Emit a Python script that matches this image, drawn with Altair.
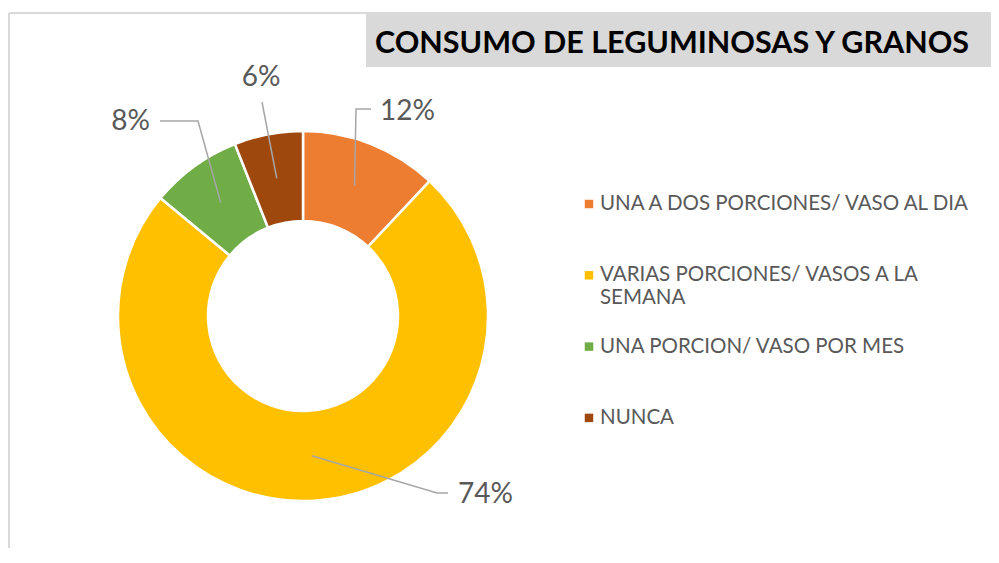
import math
import textwrap
import altair as alt
import pandas as pd

# ---------------- data ----------------
categories = [
    "UNA A DOS PORCIONES/ VASO AL DIA",
    "VARIAS PORCIONES/ VASOS A LA SEMANA",
    "UNA PORCION/ VASO POR MES",
    "NUNCA",
]
percentages = [12, 74, 8, 6]
colors = ["#ED7D31", "#FFC000", "#70AD47", "#9E480E"]
title_text = "CONSUMO DE LEGUMINOSAS Y GRANOS"

# ---------------- layout (pixels, centred on the donut, y up) ----------------
W, H = 983, 540
CX, CY = 295, 308          # donut centre inside the chart
R_OUT, R_IN = 185, 95
R_ANCHOR = (R_OUT + R_IN) / 2
FONT = "Lato"
LABEL_COLOR = "#595959"
LEADER_COLOR = "#A6A6A6"

# label placement and leader-line bends per slice (same order as categories)
label_pos = [(77, 204, "left"), (155, -179, "left"), (-153, 194, "right"), (-42, 238, "center")]
leader_bends = [[(53, 207), (68, 207)], [(134, -177), (145, -177)], [(-105, 195), (-143, 195)], [(-41, 214)]]

LEG_X, LEG_TOP, LEG_STEP, LEG_LH = 286, 112, 71.3, 23
LEG_WRAP = 33

# ---------------- tables ----------------
slice_df = pd.DataFrame({"cat": categories, "value": percentages, "idx": range(len(categories))})

total = sum(percentages)
leader_rows, label_rows = [], []
cum = 0
for i, (cat, v) in enumerate(zip(categories, percentages)):
    mid = (cum + v / 2) / total * 2 * math.pi
    cum += v
    ax, ay = R_ANCHOR * math.sin(mid), R_ANCHOR * math.cos(mid)
    pts = [(ax, ay)] + leader_bends[i]
    for o, (px, py) in enumerate(pts):
        leader_rows.append({"cat": cat, "o": o, "x": px, "y": py})
    lx, ly, al = label_pos[i]
    label_rows.append({"cat": cat, "txt": f"{round(v / total * 100)}%", "x": lx, "y": ly, "align": al})
leader_df = pd.DataFrame(leader_rows)
label_df = pd.DataFrame(label_rows)

leg_sym, leg_txt = [], []
for i, cat in enumerate(categories):
    y0 = LEG_TOP - i * LEG_STEP
    leg_sym.append({"cat": cat, "x": LEG_X, "y": y0})
    for j, line in enumerate(textwrap.wrap(cat, LEG_WRAP)):
        leg_txt.append({"cat": cat, "txt": line, "x": LEG_X + 11, "y": y0 - j * LEG_LH})
leg_sym_df = pd.DataFrame(leg_sym)
leg_txt_df = pd.DataFrame(leg_txt)

xs = alt.Scale(domain=[-CX, W - CX], nice=False, zero=False)
ys = alt.Scale(domain=[CY - H, CY], nice=False, zero=False)
X = lambda f: alt.X(f, scale=xs, axis=None)
Y = lambda f: alt.Y(f, scale=ys, axis=None)
color_scale = alt.Scale(domain=categories, range=colors)
one = pd.DataFrame({"t": [title_text]})

# ---------------- layers ----------------
border_left = alt.Chart(one).mark_rule(color="#D9D9D9", strokeWidth=2).encode(
    x=alt.value(1), y=alt.value(5), y2=alt.value(H))
border_top = alt.Chart(one).mark_rule(color="#D9D9D9", strokeWidth=2).encode(
    x=alt.value(1), x2=alt.value(W), y=alt.value(5))
title_box = alt.Chart(one).mark_rect(color="#D9D9D9").encode(
    x=alt.value(358), x2=alt.value(W), y=alt.value(5), y2=alt.value(59))
title = alt.Chart(one).mark_text(
    font=FONT, fontSize=30.5, fontWeight="bold", color="#000000", align="left", baseline="middle"
).encode(x=alt.value(367), y=alt.value(36), text="t:N")

arc = alt.Chart(slice_df).mark_arc(
    innerRadius=R_IN, outerRadius=R_OUT, stroke="white", strokeWidth=2.5
).encode(
    theta=alt.Theta("value:Q", stack=True),
    color=alt.Color("cat:N", scale=color_scale, legend=None),
    order=alt.Order("idx:Q"),
    x=alt.value(CX),
    y=alt.value(CY),
)

leaders = alt.Chart(leader_df).mark_line(color=LEADER_COLOR, strokeWidth=1.5).encode(
    x=X("x:Q"), y=Y("y:Q"), detail="cat:N", order="o:Q")

label_layers = []
for al in ["left", "right", "center"]:
    label_layers.append(
        alt.Chart(label_df).transform_filter(alt.datum.align == al).mark_text(
            font=FONT, fontSize=28, color=LABEL_COLOR, align=al, baseline="middle"
        ).encode(x=X("x:Q"), y=Y("y:Q"), text="txt:N")
    )

leg_symbols = alt.Chart(leg_sym_df).mark_square(size=72, opacity=1).encode(
    x=X("x:Q"), y=Y("y:Q"), color=alt.Color("cat:N", scale=color_scale, legend=None))
leg_texts = alt.Chart(leg_txt_df).mark_text(
    font=FONT, fontSize=20.5, color=LABEL_COLOR, align="left", baseline="middle"
).encode(x=X("x:Q"), y=Y("y:Q"), text="txt:N")

chart = alt.layer(
    border_left, border_top, title_box, title, arc, leaders, *label_layers, leg_symbols, leg_texts
).properties(
    width=W, height=H, padding=0, autosize=alt.AutoSizeParams(type="none"), background="white"
).configure_view(strokeWidth=0)

chart.save("out.html", embed_options={"renderer": "svg", "actions": False})
